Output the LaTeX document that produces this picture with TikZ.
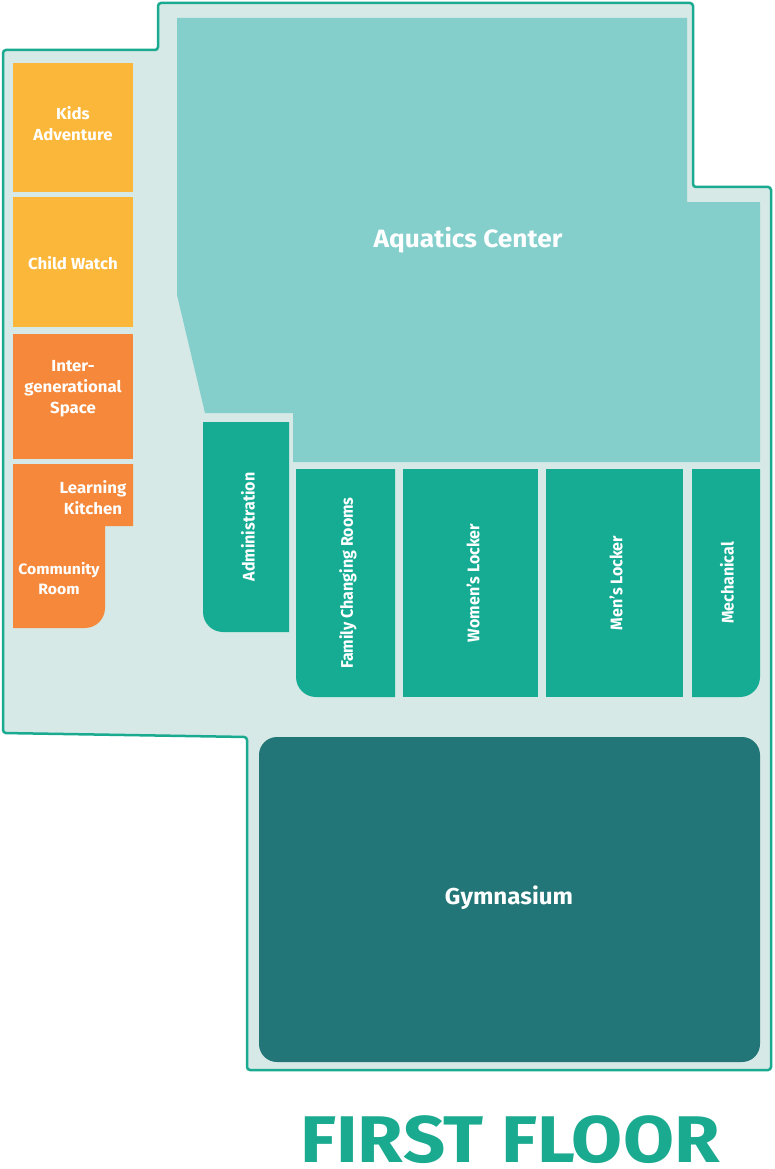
\documentclass[tikz,border=0pt]{standalone}
\usepackage{fontspec}
\setmainfont{Fira Sans}
\definecolor{bg}{HTML}{D6E9E6}
\definecolor{edge}{HTML}{1AAA8F}
\definecolor{aqua}{HTML}{84CFCC}
\definecolor{yel}{HTML}{FBB739}
\definecolor{ora}{HTML}{F5883A}
\definecolor{teal}{HTML}{16AC94}
\definecolor{gym}{HTML}{237677}
\begin{document}
\begin{tikzpicture}[x=1pt,y=-1pt,
  lbl/.style={text=white,font=\bfseries\fontsize{16}{21}\selectfont,align=center,xscale=1.05},
  vl/.style={lbl,rotate=90}]
\useasboundingbox (0,0) rectangle (774,1169);
\draw[fill=bg,draw=edge,line width=2.5pt,rounded corners=3pt]
 (158,3)--(693,3)--(693,187)--(771,187)--(771,1070)--(247,1070)--(247,737)--(3,733)--(3,50)--(158,50)--cycle;
\fill[aqua] (177,18)--(687,18)--(687,202)--(760,202)--(760,462)--(293,462)--(293,413)--(205,413)--(177,295)--cycle;
\node[lbl,font=\bfseries\fontsize{25}{30}\selectfont] (aq) at (468,240) {Aquatics Center};
\fill[yel] (13,63) rectangle (133,192);
\node[lbl] (ka) at (73,124) {Kids\\Adventure};
\fill[yel] (13,197) rectangle (133,327);
\node[lbl] (cw) at (73,263) {Child Watch};
\fill[ora] (13,334) rectangle (133,459);
\node[lbl] (ig) at (73,389) {Inter-\\generational\\Space};
\fill[ora] (13,464)--(133,464)--(133,526)--(105,526)--(105,608) arc[start angle=0,end angle=-90,radius=20pt] --(13,628)--cycle;
\node[lbl] (lk) at (93,498) {Learning\\Kitchen};
\node[lbl,font=\bfseries\fontsize{15}{20}\selectfont] (cr) at (59,579) {Community\\Room};
\fill[teal] (203,422)--(289,422)--(289,632)--(223,632) arc[start angle=-90,end angle=-180,radius=20pt]--cycle;
\node[vl] (ad) at (248,527) {Administration};
\fill[teal] (296,469)--(395,469)--(395,697)--(316,697) arc[start angle=-90,end angle=-180,radius=20pt]--cycle;
\node[vl] (fc) at (348,583) {Family Changing Rooms};
\fill[teal] (403,469) rectangle (538,697);
\node[vl] (wl) at (473,583) {Women’s Locker};
\fill[teal] (546,469) rectangle (683,697);
\node[vl] (ml) at (616,583) {Men’s Locker};
\fill[teal] (692,469)--(760,469)--(760,677) arc[start angle=0,end angle=-90,radius=20pt]--(692,697)--cycle;
\node[vl] (me) at (727,583) {Mechanical};
\fill[gym,rounded corners=18pt] (259,737) rectangle (760,1062);
\node[lbl,font=\bfseries\fontsize{23}{28}\selectfont] (gy) at (509,898) {Gymnasium};
\node[text=edge,font=\bfseries\fontsize{66}{70}\selectfont,xscale=1.12,anchor=base,inner sep=0pt] (ff) at (510,1162) {FIRST FLOOR};
\end{tikzpicture}
\end{document}
